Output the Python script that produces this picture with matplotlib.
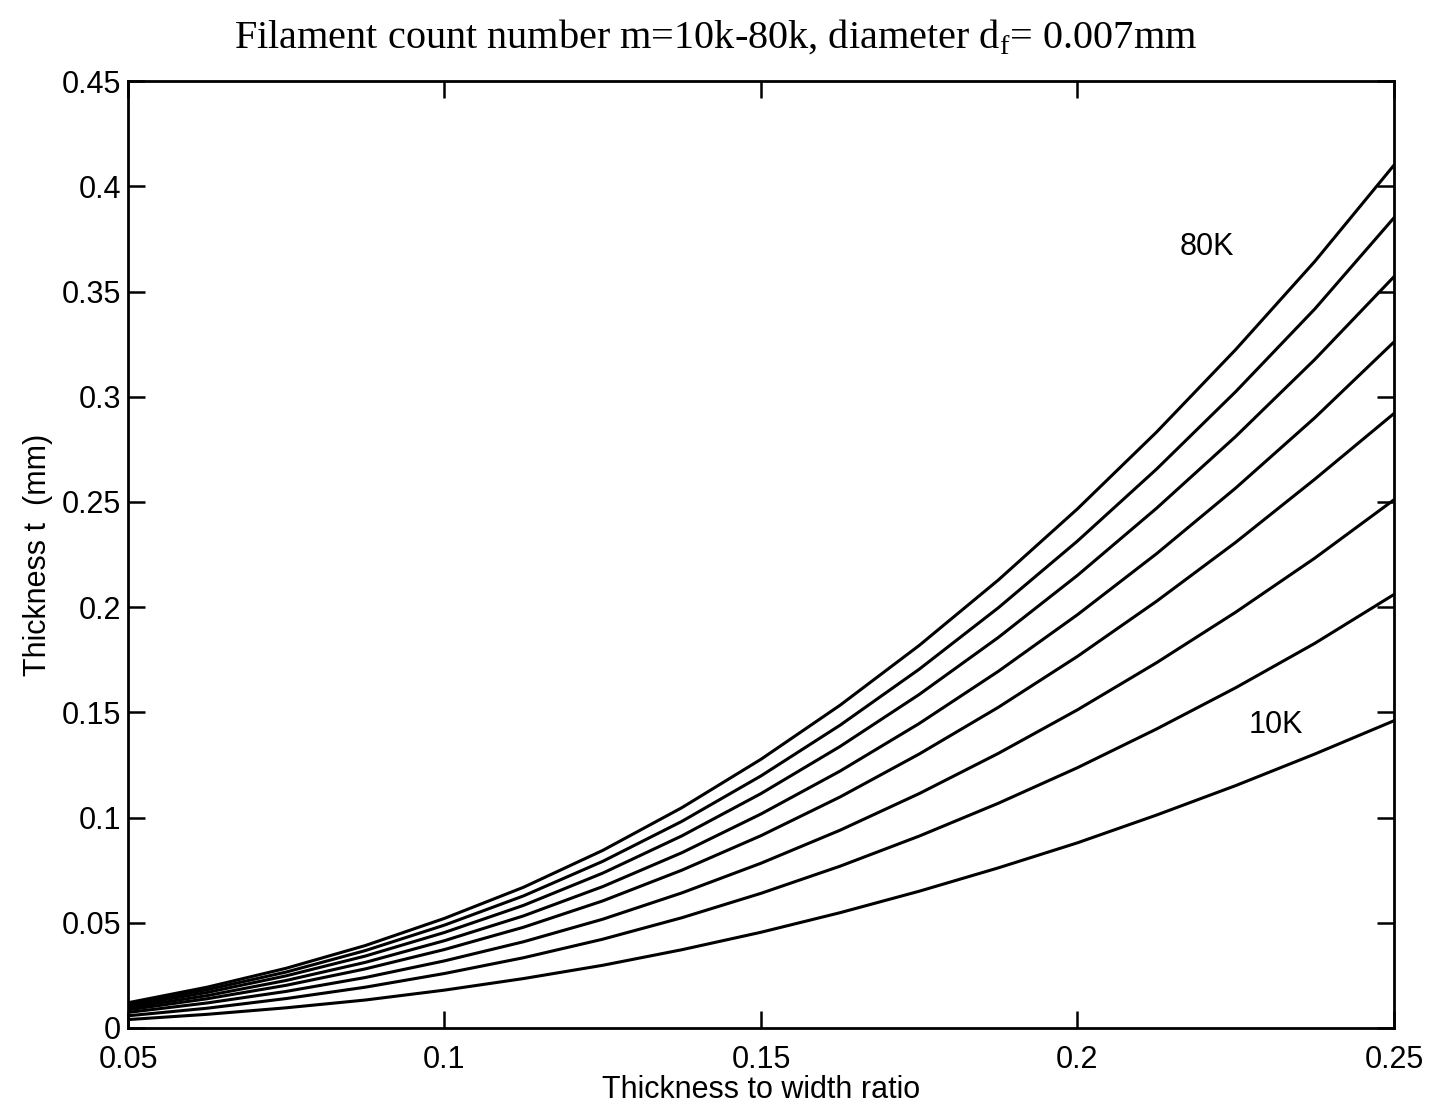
import matplotlib
matplotlib.use("Agg")
import matplotlib.pyplot as plt

# Data
ratio = [0.05, 0.0625, 0.075, 0.0875, 0.1, 0.1125, 0.125, 0.1375, 0.15,
         0.1625, 0.175, 0.1875, 0.2, 0.2125, 0.225, 0.2375, 0.25]
t_80k = [0.0120, 0.0194, 0.0284, 0.0392, 0.0521, 0.0669, 0.0844, 0.1047, 0.1277,
         0.1534, 0.1818, 0.2129, 0.2467, 0.2832, 0.3224, 0.3643, 0.4100]
t_70k = [0.0113, 0.0182, 0.0266, 0.0368, 0.0489, 0.0628, 0.0792, 0.0982, 0.1198,
         0.1439, 0.1705, 0.1997, 0.2314, 0.2656, 0.3024, 0.3417, 0.3850]
t_60k = [0.0105, 0.0169, 0.0248, 0.0342, 0.0454, 0.0583, 0.0736, 0.0913, 0.1114,
         0.1338, 0.1585, 0.1856, 0.2151, 0.2470, 0.2811, 0.3177, 0.3570]
t_50k = [0.0096, 0.0154, 0.0226, 0.0312, 0.0415, 0.0533, 0.0672, 0.0833, 0.1017,
         0.1221, 0.1447, 0.1695, 0.1964, 0.2254, 0.2566, 0.2900, 0.3260]
t_40k = [0.0086, 0.0139, 0.0203, 0.0281, 0.0373, 0.0479, 0.0604, 0.0750, 0.0914,
         0.1098, 0.1302, 0.1524, 0.1766, 0.2028, 0.2308, 0.2608, 0.2920]
t_30k = [0.0074, 0.0119, 0.0174, 0.0240, 0.0319, 0.0410, 0.0517, 0.0642, 0.0783,
         0.0940, 0.1114, 0.1305, 0.1512, 0.1736, 0.1976, 0.2233, 0.2510]
t_20k = [0.0058, 0.0094, 0.0140, 0.0194, 0.0259, 0.0334, 0.0422, 0.0524, 0.0640,
         0.0769, 0.0912, 0.1068, 0.1237, 0.1421, 0.1617, 0.1828, 0.2060]
t_10k = [0.0040, 0.0065, 0.0096, 0.0133, 0.0180, 0.0235, 0.0298, 0.0372, 0.0455,
         0.0548, 0.0650, 0.0761, 0.0880, 0.1012, 0.1152, 0.1302, 0.1460]
series = [t_10k, t_20k, t_30k, t_40k, t_50k, t_60k, t_70k, t_80k]

xticks = [0.05, 0.1, 0.15, 0.2, 0.25]
xticklabels = ["0.05", "0.1", "0.15", "0.2", "0.25"]
yticks = [0, 0.05, 0.1, 0.15, 0.2, 0.25, 0.3, 0.35, 0.4, 0.45]
yticklabels = ["0", "0.05", "0.1", "0.15", "0.2", "0.25", "0.3", "0.35", "0.4", "0.45"]

title = "Filament count number m=10k-80k, diameter d$_\\mathregular{f}$= 0.007mm"
xlabel = "Thickness to width ratio"
ylabel = "Thickness t  (mm)"

plt.rcParams["font.family"] = ["Liberation Sans", "DejaVu Sans"]

fig = plt.figure(figsize=(14.32, 11.14), dpi=100)
ax = fig.add_axes([0.0894, 0.0772, 0.884, 0.850])

for s in series:
    ax.plot(ratio, s, color="black", linewidth=2.2)

ax.set_xlim(0.05, 0.25)
ax.set_ylim(0, 0.45)
ax.set_xticks(xticks)
ax.set_xticklabels(xticklabels)
ax.set_yticks(yticks)
ax.set_yticklabels(yticklabels)
ax.tick_params(direction="in", length=12, width=1.8, top=True, right=True,
               labelsize=22)
ax.tick_params(axis="x", pad=12)
ax.tick_params(axis="y", pad=5)
for sp in ax.spines.values():
    sp.set_linewidth(2.0)

ax.text(0.2204, 0.371, "80K", fontsize=22, ha="center", va="center")
ax.text(0.2314, 0.1438, "10K", fontsize=22, ha="center", va="center")

ax.set_xlabel(xlabel, fontsize=22, labelpad=0)
ax.set_ylabel(ylabel, fontsize=22, labelpad=6)
fig.text(0.5, 0.966, title, fontsize=29, ha="center", va="center",
         family=["Liberation Serif", "DejaVu Serif"])

fig.savefig("out.png", dpi=100, facecolor="white")
